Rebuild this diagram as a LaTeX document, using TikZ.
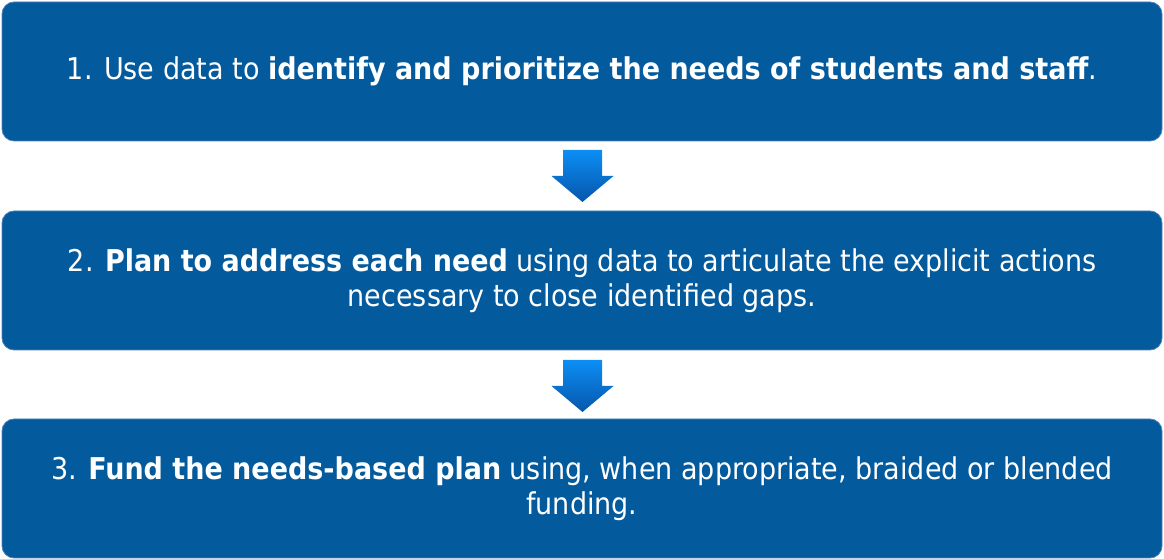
\documentclass[tikz,border=0pt]{standalone}
\usepackage{fontspec}
\setmainfont{DejaVu Sans Condensed}
\usepackage{xcolor}
\usetikzlibrary{positioning}
\definecolor{stepBlue}{RGB}{3,90,156}
\definecolor{stepEdge}{RGB}{79,129,189}
\definecolor{arrTop}{RGB}{12,142,245}
\definecolor{arrBot}{RGB}{6,86,170}

\begin{document}
\begin{tikzpicture}[x=1pt, y=1pt,
  stepbox/.style={draw=stepEdge, fill=stepBlue, line width=0.8pt,
    rounded corners=12pt, minimum width=1160pt, minimum height=139pt,
    inner sep=0pt, align=center, text=white,
    font=\fontsize{30}{35}\selectfont},
  downarr/.style={top color=arrTop, bottom color=arrBot}]
\useasboundingbox (0,0) rectangle (1164,559);

% the three steps, top to bottom
\node[stepbox] (need) at (582,487.5)
  {1. Use data to \textbf{identify and prioritize the needs of students and staff}.};
\node[stepbox] (plan) at (582,278.5)
  {2. \textbf{Plan to address each need} using data to articulate the explicit actions\\
   necessary to close identified gaps.};
\node[stepbox] (fund) at (582,70.5)
  {3. \textbf{Fund the needs-based plan} using, when appropriate, braided or blended\\
   funding.};

% block arrows between the steps, drawn from the top centre of each
\coordinate (a1) at (582.5,409);
\coordinate (a2) at (582.5,199);
\foreach \a in {a1,a2}
  \shade[downarr] (\a) ++(-19.5,0) -- ++(0,-26) -- ++(-11.5,0)
    -- ++(31,-26) -- ++(31,26) -- ++(-11.5,0) -- ++(0,26) -- cycle;
\end{tikzpicture}
\end{document}
